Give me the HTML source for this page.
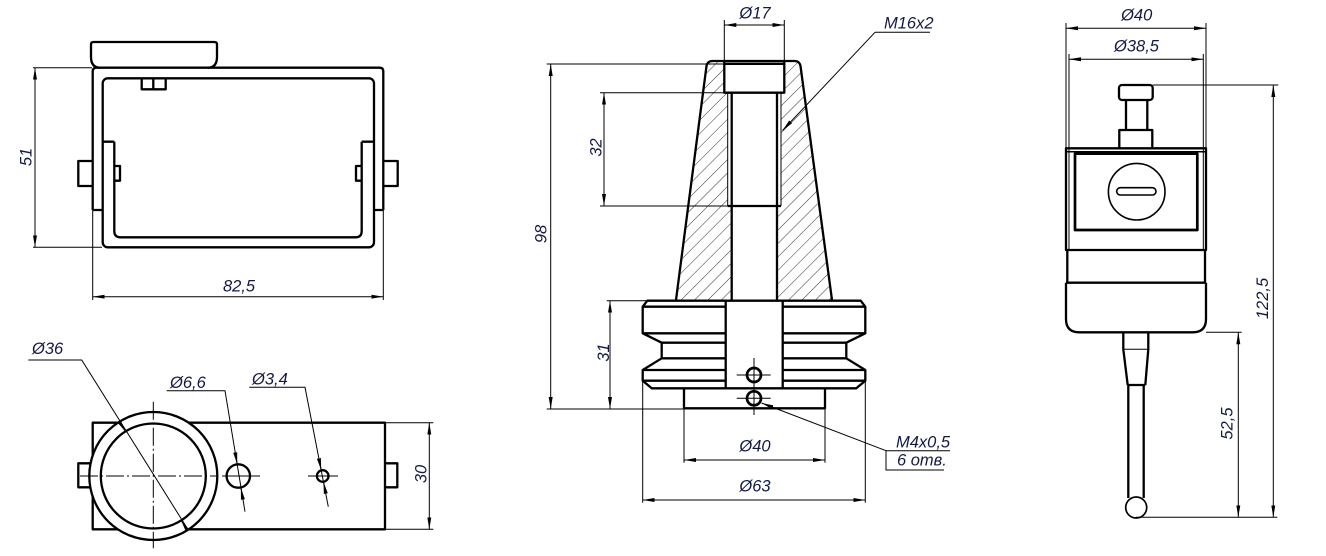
<!DOCTYPE html>
<html><head><meta charset="utf-8">
<style>
html,body{margin:0;padding:0;background:#fff}
svg{display:block}
text{font-family:"Liberation Sans","DejaVu Sans",sans-serif;font-style:italic;font-size:16.5px;fill:#121a44}
</style></head>
<body>
<svg width="1326" height="556" viewBox="0 0 1326 556" xmlns="http://www.w3.org/2000/svg">
<defs>
<marker id="ar" viewBox="0 0 12 4" refX="12" refY="2" markerWidth="12" markerHeight="4.2" markerUnits="userSpaceOnUse" orient="auto-start-reverse">
<path d="M0,0 L12,2 L0,4 z" fill="#000"/>
</marker>
<pattern id="h" width="9.5" height="9.5" patternUnits="userSpaceOnUse" patternTransform="rotate(45)">
<line x1="0" y1="0" x2="0" y2="9.5" stroke="#333" stroke-width="1"/>
</pattern>
</defs>

<!-- hatching -->
<path d="M676,300 L706.5,66 Q707.5,61 712.5,61 L724.3,61 L724.3,92.7 L727.7,92.7 L727.7,206 L731.7,206 L731.7,300 Z" fill="url(#h)"/>
<path d="M777,300 L777,206 L781,206 L781,92.7 L784.3,92.7 L784.3,61 L794.5,61 Q799.5,61 800.5,66 L832,300 Z" fill="url(#h)"/>

<!-- thick outlines -->
<g fill="none" stroke="#000" stroke-width="2.3" stroke-linejoin="round">
<!-- view 1 -->
<path d="M100,67.7 Q91,67.5 91,57 L91,44.5 Q91,42 93.5,42 L214.5,42 Q217,42 217,44.5 L217,57 Q217,67.5 208,67.7"/>
<path d="M92.7,210 L92.7,71.5 Q92.7,67.7 96.5,67.7 L379.5,67.7 Q383.3,67.7 383.3,71.5 L383.3,210"/>
<path d="M92.7,210 H102.7 M374,210 H383.3"/>
<rect x="102.7" y="78.3" width="271.3" height="169" rx="5"/>
<path d="M114.3,141.7 V231 Q114.3,237.3 120.5,237.3 H355.5 Q361.7,237.3 361.7,231 V141.7 M102.7,141.7 H114.3 M361.7,141.7 H374"/>
<path d="M114.3,166 H120 V180.7 H114.3 M361.7,166 H356 V180.7 H361.7"/>
<path d="M92.7,161 H78.3 V186 H92.7 M383.3,161 H397.7 V186 H383.3"/>
<path d="M141.7,78.3 V89.3 H165.7 V78.3 M153.3,78.3 V89.3"/>

<!-- view 2 -->
<rect x="92.7" y="422.7" width="292.3" height="106.6"/>
<path d="M92.7,463.3 H78.3 V487.3 H92.7 M385,463.3 H397.3 V487.3 H385"/>
<circle cx="153.3" cy="476" r="64" fill="#fff"/>
<circle cx="153.3" cy="476" r="52.5"/>
<circle cx="238.3" cy="476" r="11.7" fill="#fff"/>
<circle cx="322.7" cy="476" r="5.8" fill="#fff"/>

<!-- view 3 cone -->
<path d="M676,300 L706.5,66 Q707.5,61 712.5,61 L794.5,61 Q799.5,61 800.5,66 L832,300"/>
<path d="M724.3,61 V92.7 H784.3 V61 M724.3,63.8 H784.3"/>
<path d="M731.7,92.7 V300 M777,92.7 V300 M727.7,206 H781"/>
<!-- base -->
<path d="M647.3,300.7 H860.7 L865.3,306.7 V333.3 L846.3,342.7 V358.3 L865.3,370 V380.7 L856.3,388.3 H651.7 L642.7,380.7 V370 L661.7,358.3 V342.7 L642.7,333.3 V306.7 Z" fill="#fff"/>
<path d="M642.7,306.7 H725.7 M782.7,306.7 H865.3 M642.7,333.3 H725.7 M782.7,333.3 H865.3 M661.7,342.7 H725.7 M782.7,342.7 H846.3 M661.7,358.3 H725.7 M782.7,358.3 H846.3 M642.7,370 H725.7 M782.7,370 H865.3 M642.7,380.7 H725.7 M782.7,380.7 H865.3"/>
<path d="M725.7,300.7 V388.3 M782.7,300.7 V388.3"/>
<path d="M684,388.3 V408.3 H825 V388.3"/>
<circle cx="754" cy="375" r="7" stroke-width="2.7"/>
<circle cx="754" cy="398.3" r="7" stroke-width="2.7"/>

<!-- view 4 -->
<rect x="1119" y="85" width="33.7" height="15" rx="3"/>
<path d="M1126,100 V130 M1147.3,100 V130"/>
<path d="M1119.3,148.3 V130 H1152.3 V148.3"/>
<rect x="1066" y="148.3" width="140" height="101.7"/>
<path d="M1066,151.7 H1206" stroke-width="1.5"/>
<rect x="1075" y="153.7" width="122.3" height="76.3" stroke-width="2.7"/>
<circle cx="1136.7" cy="191.7" r="28.3" stroke-width="1.6"/>
<rect x="1116.7" y="187.7" width="39.3" height="7.3" rx="3.6" stroke-width="1.6"/>
<path d="M1067.3,250 V282.7 M1205,250 V282.7 M1066,282.7 H1206"/>
<path d="M1066,282.7 V319 Q1066,332.3 1079.3,332.3 H1192.7 Q1206,332.3 1206,319 V282.7"/>
<path d="M1123.3,332.3 V349.3 L1127.7,385 M1148.3,332.3 V349.3 L1145.3,385 M1127.7,385 H1145.3 M1128.3,385 V498 M1143.7,385 V498"/>
<circle cx="1136.2" cy="507.5" r="10.5" stroke-width="1.7" fill="#fff"/>
</g>

<!-- thin lines -->
<g fill="none" stroke="#000" stroke-width="1">
<!-- view 1 dims -->
<path d="M33,67.7 H92 M33,247.3 H102"/>
<line x1="35" y1="67.7" x2="35" y2="247.3" marker-start="url(#ar)" marker-end="url(#ar)"/>
<path d="M92.7,210 V300 M383.3,210 V300"/>
<line x1="92.7" y1="296.7" x2="383.3" y2="296.7" marker-start="url(#ar)" marker-end="url(#ar)"/>

<!-- view 2 -->
<path d="M80,476 H218 M153.3,401.7 V548.3" stroke-dasharray="18 3 2 3"/>
<path d="M222,476 H260 M308,476 H338"/>
<path d="M28.3,360 H81.7 L188.3,530"/>
<path d="M166.7,390.7 H225 L245,511.7"/>
<path d="M249.3,387.3 H305 L328.3,506.7"/>
<line x1="119" y1="421.3" x2="125.4" y2="431.5" marker-end="url(#ar)"/>
<line x1="187.6" y1="530.7" x2="181.2" y2="520.5" marker-end="url(#ar)"/>
<line x1="235.2" y1="452.5" x2="237.2" y2="464.3" marker-end="url(#ar)"/>
<line x1="242.9" y1="499.5" x2="240.9" y2="487.7" marker-end="url(#ar)"/>
<line x1="318.9" y1="458.4" x2="321.2" y2="470.2" marker-end="url(#ar)"/>
<line x1="325.8" y1="493.6" x2="323.5" y2="481.8" marker-end="url(#ar)"/>
<path d="M385,422.7 H433.3 M385,529.3 H433.3"/>
<line x1="429.3" y1="422.7" x2="429.3" y2="529.3" marker-start="url(#ar)" marker-end="url(#ar)"/>

<!-- view 3 -->
<path d="M727.7,92.7 V206 M781,92.7 V206"/>
<path d="M754,358 V415 M736.7,375 H770.7 M736.7,398.3 H770.7"/>
<line x1="886" y1="450.7" x2="761.5" y2="403" marker-end="url(#ar)"/>
<path d="M886,450.7 H950 M886,450.7 V470 H944"/>
<path d="M724.3,20 V61 M784.3,20 V61"/>
<line x1="724.3" y1="25" x2="784.3" y2="25" marker-start="url(#ar)" marker-end="url(#ar)"/>
<path d="M930,32.3 H875"/>
<line x1="875" y1="32.3" x2="782.5" y2="130.5" marker-end="url(#ar)"/>
<path d="M546.7,64 H724.3 M546.7,409 H684"/>
<line x1="550.7" y1="64" x2="550.7" y2="409" marker-start="url(#ar)" marker-end="url(#ar)"/>
<path d="M600,92.7 H727.7 M600,206 H727.7"/>
<line x1="604" y1="92.7" x2="604" y2="206" marker-start="url(#ar)" marker-end="url(#ar)"/>
<path d="M606.7,300.7 H647.3"/>
<line x1="610" y1="300.7" x2="610" y2="409" marker-start="url(#ar)" marker-end="url(#ar)"/>
<path d="M684,408.3 V462.7 M825,408.3 V462.7"/>
<line x1="684" y1="460" x2="825" y2="460" marker-start="url(#ar)" marker-end="url(#ar)"/>
<path d="M642.7,380.7 V502.7 M865.3,380.7 V502.7"/>
<line x1="642.7" y1="500" x2="865.3" y2="500" marker-start="url(#ar)" marker-end="url(#ar)"/>

<!-- view 4 -->
<path d="M1066,23 V148.3 M1206,23 V148.3"/>
<line x1="1066" y1="28.3" x2="1206" y2="28.3" marker-start="url(#ar)" marker-end="url(#ar)"/>
<path d="M1069,54 V250 M1203.3,54 V250"/>
<line x1="1069" y1="59.3" x2="1203.3" y2="59.3" marker-start="url(#ar)" marker-end="url(#ar)"/>
<path d="M1123.3,349.3 H1148.3"/>
<path d="M1152.7,85 H1278.3"/>
<line x1="1273.3" y1="85" x2="1273.3" y2="517.3" marker-start="url(#ar)" marker-end="url(#ar)"/>
<path d="M1206,332.3 H1241.7 M1136,517.3 H1277.3"/>
<line x1="1238.3" y1="332.3" x2="1238.3" y2="517.3" marker-start="url(#ar)" marker-end="url(#ar)"/>
</g>

<!-- texts -->
<text x="239" y="291.5" text-anchor="middle">82,5</text>
<text transform="translate(31.5,157) rotate(-90)" text-anchor="middle">51</text>

<text x="32" y="354">Ø36</text>
<text x="170" y="388">Ø6,6</text>
<text x="252" y="384.5">Ø3,4</text>
<text transform="translate(426.5,474) rotate(-90)" text-anchor="middle">30</text>

<text x="755" y="18.5" text-anchor="middle">Ø17</text>
<text x="884" y="28.3">M16x2</text>
<text transform="translate(546.5,234) rotate(-90)" text-anchor="middle">98</text>
<text transform="translate(601.5,147.5) rotate(-90)" text-anchor="middle">32</text>
<text transform="translate(609,352.5) rotate(-90)" text-anchor="middle">31</text>
<text x="755" y="451.7" text-anchor="middle">Ø40</text>
<text x="755" y="491.7" text-anchor="middle">Ø63</text>
<text x="896" y="447.3">M4x0,5</text>
<text x="897" y="465.7">6 отв.</text>

<text x="1136.7" y="20.7" text-anchor="middle">Ø40</text>
<text x="1136.5" y="51.7" text-anchor="middle">Ø38,5</text>
<text transform="translate(1268,298.5) rotate(-90)" text-anchor="middle">122,5</text>
<text transform="translate(1232.5,423.5) rotate(-90)" text-anchor="middle">52,5</text>
</svg>
</body></html>
